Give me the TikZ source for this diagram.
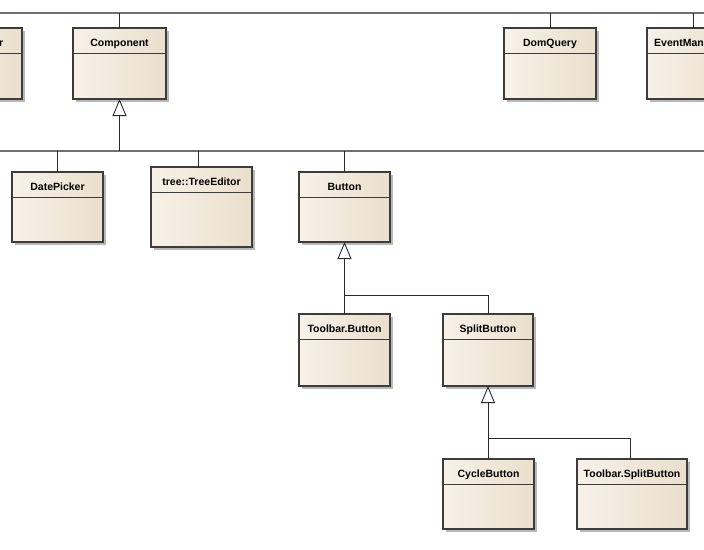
\documentclass[tikz,border=0pt]{standalone}
\usepackage{fontspec}
\setmainfont{Liberation Sans}
\usetikzlibrary{shadows,arrows.meta}
\definecolor{boxL}{HTML}{F7F1E8}
\definecolor{boxR}{HTML}{EADFCC}
\definecolor{edgec}{HTML}{3C3C3C}
\definecolor{busc}{HTML}{707070}
\definecolor{lnc}{HTML}{2A2A2A}
\newcommand\umlbox[6]{%
  \node[cls, minimum width=#4, minimum height=#5] (#1) at (#2,#3) {};
  \draw[hdr] ([yshift=-25pt]#1.north west) -- ([yshift=-25pt]#1.north east);
  \node[ttl] (#1t) at ([yshift=-18.5pt]#1.north) {#6};
}
\begin{document}
\begin{tikzpicture}[x=1pt,y=-1pt,
  cls/.style={draw=edgec, line width=1.1pt, left color=boxL, right color=boxR,
    drop shadow={shadow xshift=3pt, shadow yshift=-3pt, fill=black, opacity=0.28},
    inner sep=0pt, outer sep=0pt, anchor=north west},
  hdr/.style={draw=edgec, line width=0.9pt},
  ttl/.style={anchor=base, inner sep=0pt, font=\fontsize{10.5}{12}\selectfont\bfseries},
  bus/.style={draw=busc, line width=1.6pt},
  conn/.style={draw=lnc, line width=0.9pt},
  gen/.style={draw=lnc, line width=0.9pt, -{Triangle[length=17pt,width=14pt,fill=white]}}]
\useasboundingbox (0,0) rectangle (704,549);
\fill[white] (0,0) rectangle (704,549);
% buses
\coordinate (b1L) at (0,13);
\coordinate (b1R) at (704,13);
\coordinate (b2L) at (0,151);
\coordinate (b2R) at (704,151);
\draw[bus] (b1L) -- (b1R);
\draw[bus] (b2L) -- (b2R);
% classes
\node[cls, minimum width=92, minimum height=71] (lbox) at (-70,28) {};
\draw[hdr] ([yshift=-25pt]lbox.north west) -- ([yshift=-25pt]lbox.north east);
\node[ttl, anchor=base east] (lboxt) at (3.5,46.5) {r};
\umlbox{comp}{73}{28}{93}{71}{Component}
\umlbox{dom}{504}{28}{92}{71}{DomQuery}
\node[cls, minimum width=93, minimum height=71] (event) at (647,28) {};
\draw[hdr] ([yshift=-25pt]event.north west) -- ([yshift=-25pt]event.north east);
\node[ttl, anchor=base west] (eventt) at (654,46.5) {EventMan};
\umlbox{date}{12}{172}{91}{70}{DatePicker}
\umlbox{tree}{151}{167}{101}{80}{tree::TreeEditor}
\umlbox{button}{299}{172}{91}{70}{Button}
\umlbox{tbutton}{299}{314}{91}{72}{Toolbar.Button}
\umlbox{split}{443}{314}{90}{72}{SplitButton}
\umlbox{cycle}{443}{459}{91}{70}{CycleButton}
\umlbox{tsplit}{577}{459}{110}{70}{Toolbar.SplitButton}
% connectors to top bus
\draw[conn] (comp.north) -- (comp.north |- b1L);
\draw[conn] (dom.north) -- (dom.north |- b1L);
\draw[conn] (event.north) -- (event.north |- b1L);
% component generalization
\draw[gen] (comp.south |- b2L) -- (comp.south);
\draw[conn] (date.north) -- (date.north |- b2L);
\draw[conn] ([xshift=-3.5pt]tree.north) -- ([xshift=-3.5pt]tree.north |- b2L);
\draw[conn] (button.north) -- (button.north |- b2L);
% button generalization
\coordinate (j1) at (344.5,295);
\draw[gen] (split.north) |- (j1) -- (button.south);
\draw[conn] (tbutton.north) -- (j1);
% splitbutton generalization
\coordinate (j2) at (488,438);
\draw[gen] ([xshift=-2pt]tsplit.north) |- (j2) -- (split.south);
\draw[conn] (cycle.north) -- (cycle.north |- j2);
\end{tikzpicture}
\end{document}
